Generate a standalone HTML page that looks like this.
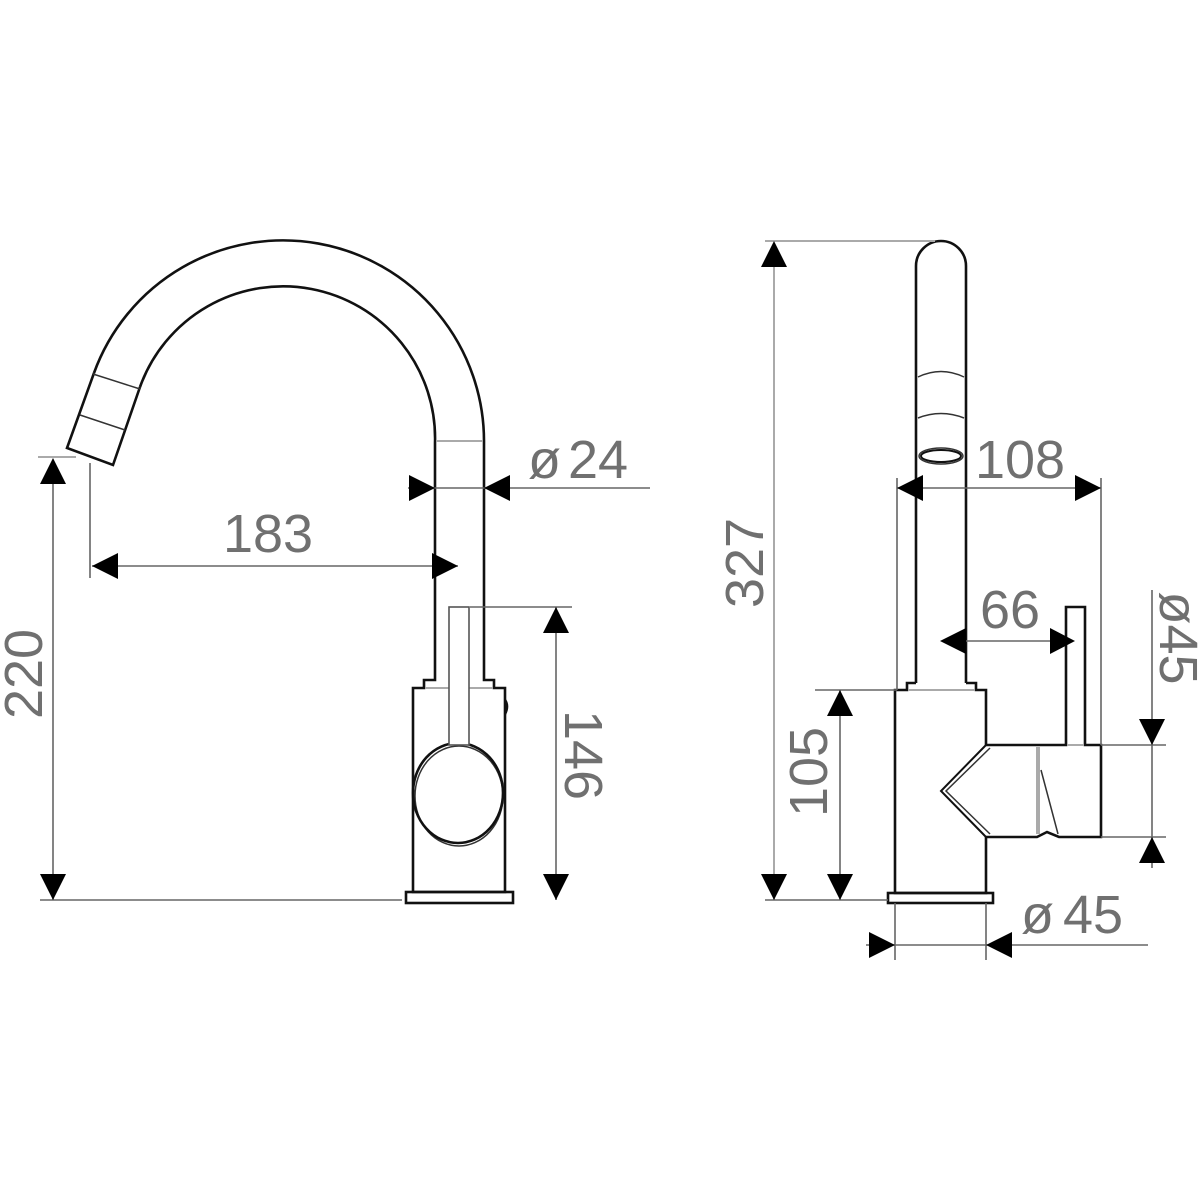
<!DOCTYPE html>
<html><head><meta charset="utf-8"><style>
html,body{margin:0;padding:0;background:#fff;}
svg{display:block}
text{font-family:"Liberation Sans",sans-serif;font-size:54px;fill:#707070;}
.o{fill:none;stroke:#111;stroke-width:2.6}
.t{fill:none;stroke:#333;stroke-width:1.5}
.d{fill:none;stroke:#666;stroke-width:1.6}
.g{fill:none;stroke:#aaa;stroke-width:2}
.a{fill:#000}
</style></head><body>
<svg width="1200" height="1200" viewBox="0 0 1200 1200">
<!-- LEFT FAUCET -->
<path class="o" d="M94,373 A201,201 0 0 1 484,443 L484,607"/>
<path class="o" d="M140,387 A152,152 0 0 1 435,443 L435,607"/>
<path class="o" d="M94,373 L67,448 L113,465 L140,387"/>
<path class="t" d="M93,374 L140,389 M80,415 L125,430"/>
<line class="g" x1="436" y1="441" x2="483" y2="441"/>
<path class="o" d="M435,607 L435,680 L424,680 L424,688 L413,688 L413,892 L505,892 L505,688 L494,688 L494,680 L484,680 L484,607"/>
<line class="g" x1="425" y1="688" x2="493" y2="688"/>
<rect class="o" x="406" y="892" width="107" height="11"/>
<path d="M505,700 q4,6 0,14" class="o"/>
<ellipse class="t" cx="459" cy="796" rx="44" ry="50"/>
<ellipse class="o" cx="458" cy="793" rx="45" ry="50"/>
<rect x="449" y="607" width="20" height="138" fill="#fff" stroke="#555" stroke-width="1.6"/>
<!-- left dims -->
<line class="g" x1="38" y1="457" x2="76" y2="457"/>
<line class="d" x1="40" y1="900" x2="402" y2="900"/>
<line class="d" x1="53" y1="460" x2="53" y2="900"/>
<polygon class="a" points="53,458 40,484 66,484"/><polygon class="a" points="53,900 40,874 66,874"/>
<text transform="translate(42,674) rotate(-90)" text-anchor="middle">220</text>
<line class="d" x1="90" y1="463" x2="90" y2="578"/>
<line class="d" x1="92" y1="566" x2="458" y2="566"/>
<polygon class="a" points="92,566 118,553 118,579"/><polygon class="a" points="458,566 432,553 432,579"/>
<text x="268" y="552" text-anchor="middle">183</text>
<line class="d" x1="408" y1="488" x2="650" y2="488"/>
<polygon class="a" points="435,488 409,475 409,501"/><polygon class="a" points="484,488 510,475 510,501"/>
<text x="528" y="478">ø</text><text x="568" y="478">24</text>
<line class="d" x1="470" y1="607" x2="572" y2="607"/>
<line class="d" x1="556" y1="607" x2="556" y2="900"/>
<polygon class="a" points="556,607 543,633 569,633"/><polygon class="a" points="556,900 543,874 569,874"/>
<text transform="translate(565,755) rotate(90)" text-anchor="middle">146</text>

<!-- RIGHT FAUCET -->
<path class="o" d="M916,683 L916,266 A25,25 0 0 1 966,266 L966,683"/>
<path class="t" d="M918,377 Q941,366 964,377 M918,418 Q941,409 964,418"/>
<ellipse class="o" cx="941" cy="456" rx="20" ry="6" style="stroke-width:2"/>
<ellipse class="t" cx="941" cy="456" rx="22" ry="8"/>
<path class="o" d="M916,683 L907,683 L907,690 L895,690 L895,893 L986,893 L986,837 L1037,837 L1047,832 L1059,837 L1101,837 L1101,745 L1085,745 L1085,607 L1066,607 L1066,745 L986,745 L986,690 L976,690 L976,683 L966,683"/>
<line class="g" x1="908" y1="690" x2="975" y2="690"/>
<line class="g" x1="1067" y1="745" x2="1084" y2="745"/>
<path class="o" d="M986,745 L941,791 L986,837" style="stroke-width:2"/>
<path class="t" d="M990,748 L946,791 L990,834"/>
<line x1="1038" y1="747" x2="1038" y2="834" stroke="#aaa" stroke-width="4"/>
<line class="t" x1="1041" y1="770" x2="1058" y2="834"/>
<rect class="o" x="888" y="893" width="105" height="10"/>
<!-- right dims -->
<line class="g" x1="765" y1="241" x2="935" y2="241"/>
<line class="g" x1="774" y1="243" x2="774" y2="900"/>
<line class="d" x1="765" y1="900" x2="888" y2="900"/>
<polygon class="a" points="774,241 761,267 787,267"/><polygon class="a" points="774,900 761,874 787,874"/>
<text transform="translate(763,563) rotate(-90)" text-anchor="middle">327</text>
<line class="d" x1="897" y1="478" x2="897" y2="690"/>
<line class="d" x1="1101" y1="478" x2="1101" y2="745"/>
<line class="d" x1="897" y1="488" x2="1101" y2="488"/>
<polygon class="a" points="897,488 923,475 923,501"/><polygon class="a" points="1101,488 1075,475 1075,501"/>
<text x="1020" y="478" text-anchor="middle">108</text>
<line class="d" x1="966" y1="641" x2="1050" y2="641"/>
<polygon class="a" points="940,641 966,628 966,654"/><polygon class="a" points="1075,641 1050,628 1050,654"/>
<text x="1010" y="628" text-anchor="middle">66</text>
<line class="d" x1="815" y1="690" x2="897" y2="690"/>
<line class="d" x1="840" y1="690" x2="840" y2="900"/>
<polygon class="a" points="840,690 827,716 853,716"/><polygon class="a" points="840,900 827,874 853,874"/>
<text transform="translate(827,772) rotate(-90)" text-anchor="middle">105</text>
<line class="d" x1="1101" y1="745" x2="1166" y2="745"/>
<line class="d" x1="1101" y1="837" x2="1166" y2="837"/>
<line class="d" x1="1152" y1="590" x2="1152" y2="868"/>
<polygon class="a" points="1152,745 1139,719 1165,719"/><polygon class="a" points="1152,837 1139,863 1165,863"/>
<text transform="translate(1160,638) rotate(90)" text-anchor="middle">ø45</text>
<line class="d" x1="895" y1="903" x2="895" y2="960"/>
<line class="d" x1="986" y1="903" x2="986" y2="960"/>
<line class="d" x1="866" y1="945" x2="1148" y2="945"/>
<polygon class="a" points="895,945 869,932 869,958"/><polygon class="a" points="986,945 1012,932 1012,958"/>
<text x="1021" y="933">ø</text><text x="1063" y="933">45</text>
</svg>
</body></html>
